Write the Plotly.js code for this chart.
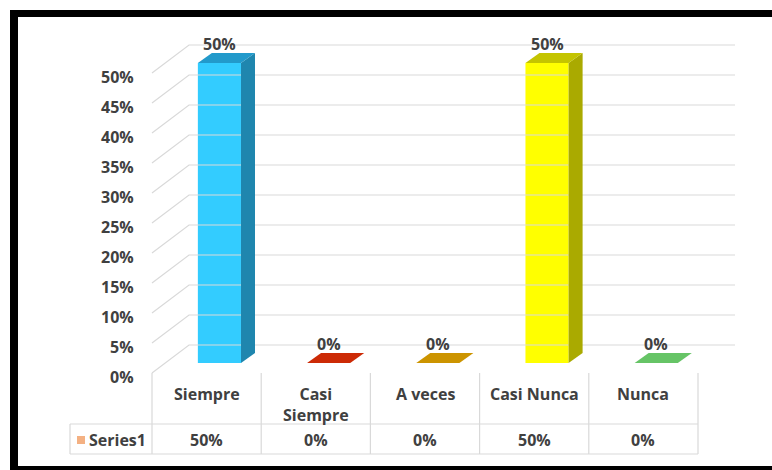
<!DOCTYPE html>
<html>
<head>
<meta charset="utf-8">
<script src="https://cdn.plot.ly/plotly-3.0.1.min.js"></script>
<style>
  html, body { margin: 0; padding: 0; background: #ffffff; overflow: hidden; }
  #wrap { position: relative; width: 772px; height: 470px; overflow: hidden; }
  #chart { position: absolute; left: 0; top: 0; width: 772px; height: 470px; }
  /* outer frame: top, left and bottom bands */
  #frame {
    position: absolute; left: 10px; top: 10px; width: 790px; height: 449px;
    border-top: 7px solid #000; border-left: 8px solid #000; border-bottom: 7px solid #000;
    pointer-events: none;
  }
</style>
</head>
<body>
<div id="wrap"><div id="chart"></div><div id="frame"></div></div>
<script>
// ---- data ----
const categories   = ['Siempre', 'Casi Siempre', 'A veces', 'Casi Nunca', 'Nunca'];
const headerLabels = ['Siempre', 'Casi<br>Siempre', 'A veces', 'Casi Nunca', 'Nunca'];
const values       = [50, 0, 0, 50, 0];          // percent
const seriesName   = 'Series1';
const tickValues   = [0, 5, 10, 15, 20, 25, 30, 35, 40, 45, 50];

// ---- styling ----
const frontColors = ['#33ccff', '#cc2a06', '#cc9400', '#ffff00', '#66c466'];
const sideColors  = ['#1f86ae', '#8f1d04', '#8f6800', '#aaaa00', '#479247'];
const topColors   = ['#229acb', '#cc2a06', '#cc9400', '#c4c400', '#66c466'];
const textColor = '#404040';
const gridColor = '#d9d9d9';
const FONT = '"Open Sans", Lato, sans-serif';

// ---- layout geometry (category units horizontally, percent vertically) ----
const W = 772, H = 470;
const PX0 = 152, PXU = 109.2;   // pixel of x = 0, pixels per category
const PY0 = 373, PYU = 6;       // pixel of y = 0 (front floor edge), pixels per percent
const DX = 37 / PXU, DY = 28 / PYU;            // depth of the box (back wall offset)
const BAR_L = 0.42, BAR_R = 0.815;             // bar front face within its column
const BAR_BASE = 10 / PYU;                     // floor level at the bar's front plane
const BDX = 14 / PXU, BDY = 10 / PYU;          // bar depth offset

const traces = [];

// back wall gridlines and left wall diagonals
const gx = [], gy = [];
tickValues.forEach(v => {
  gx.push(0, DX, 5 + DX, null);
  gy.push(v, v + DY, v + DY, null);
});
traces.push({
  type: 'scatter', mode: 'lines', x: gx, y: gy,
  line: { color: gridColor, width: 1.2 }, hoverinfo: 'skip', showlegend: false
});

// 3D columns: side, top, front faces
values.forEach((v, i) => {
  const xl = i + BAR_L, xr = i + BAR_R;
  const y0 = BAR_BASE, y1 = BAR_BASE + v;
  if (v > 0) {
    traces.push({
      type: 'scatter', mode: 'lines', fill: 'toself', fillcolor: sideColors[i],
      x: [xr, xr + BDX, xr + BDX, xr, xr], y: [y0, y0 + BDY, y1 + BDY, y1, y0],
      line: { width: 0, color: sideColors[i] }, hoverinfo: 'skip', showlegend: false
    });
  }
  traces.push({
    type: 'scatter', mode: 'lines', fill: 'toself', fillcolor: topColors[i],
    x: [xl, xr, xr + BDX, xl + BDX, xl], y: [y1, y1, y1 + BDY, y1 + BDY, y1],
    line: { width: 0, color: topColors[i] }, hoverinfo: 'skip', showlegend: false
  });
});
traces.push({
  type: 'bar', name: seriesName,
  x: categories.map((c, i) => i + (BAR_L + BAR_R) / 2),
  y: values, base: BAR_BASE, width: BAR_R - BAR_L,
  marker: { color: frontColors, line: { width: 0 } },
  hoverinfo: 'skip', showlegend: false
});

// legend key in the data table
traces.push({
  type: 'scatter', mode: 'markers', x: [(81 - PX0) / PXU], y: [-11.17],
  marker: { symbol: 'square', size: 8, color: '#f4b183' },
  hoverinfo: 'skip', showlegend: false
});

// data table grid
const tx = [], ty = [];
for (let k = 0; k <= categories.length; k++) { tx.push(k, k, null); ty.push(0, -13.5, null); }
const keyLeft = (70 - PX0) / PXU;
tx.push(keyLeft, categories.length, null, keyLeft, categories.length, null, keyLeft, keyLeft, null);
ty.push(-8.5, -8.5, null, -13.5, -13.5, null, -8.5, -13.5, null);
traces.push({
  type: 'scatter', mode: 'lines', x: tx, y: ty,
  line: { color: gridColor, width: 1.2 }, hoverinfo: 'skip', showlegend: false
});

// ---- text ----
const baseFont = { family: FONT, size: 16, color: textColor, weight: 700 };
const annotations = [];
tickValues.forEach(v => annotations.push({
  x: 0, y: v, xref: 'x', yref: 'y', text: v + '%', showarrow: false,
  xanchor: 'right', yanchor: 'middle', xshift: -16, yshift: -4, font: baseFont
}));
values.forEach((v, i) => annotations.push({
  x: i + (BAR_L + BAR_R) / 2, y: BAR_BASE + v + BDY, xref: 'x', yref: 'y',
  text: v + '%', showarrow: false, xanchor: 'center', yanchor: 'middle',
  yshift: 9, font: baseFont
}));
headerLabels.forEach((h, i) => annotations.push({
  x: i + 0.5, y: (PY0 - 381) / PYU, xref: 'x', yref: 'y', text: h, showarrow: false,
  xanchor: 'center', yanchor: 'top', font: baseFont
}));
values.forEach((v, i) => annotations.push({
  x: i + 0.5, y: -11.17, xref: 'x', yref: 'y', text: v + '%', showarrow: false,
  xanchor: 'center', yanchor: 'middle', font: baseFont
}));
annotations.push({
  x: (87 - PX0) / PXU, y: -11.17, xref: 'x', yref: 'y', text: seriesName, showarrow: false,
  xanchor: 'left', yanchor: 'middle', font: baseFont
});

const layout = {
  width: W, height: H,
  margin: { l: 0, r: 0, t: 0, b: 0, pad: 0 },
  paper_bgcolor: '#ffffff', plot_bgcolor: '#ffffff',
  showlegend: false,
  xaxis: { range: [-PX0 / PXU, (W - PX0) / PXU], visible: false, fixedrange: true },
  yaxis: { range: [(PY0 - H) / PYU, PY0 / PYU], visible: false, fixedrange: true },
  annotations: annotations
};

Plotly.newPlot('chart', traces, layout, { staticPlot: true, displayModeBar: false });
</script>
</body>
</html>
